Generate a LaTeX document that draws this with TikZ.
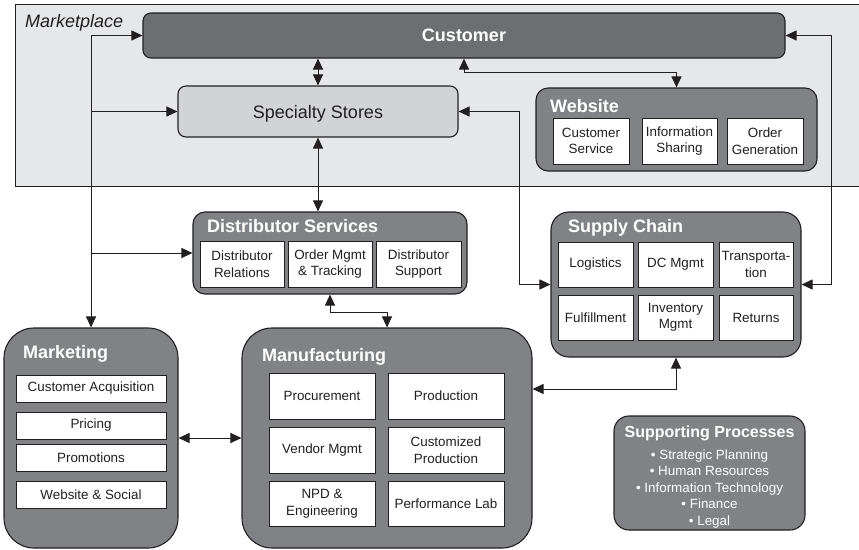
\documentclass[tikz,border=0pt]{standalone}
\usepackage{fontspec}
\setmainfont{Liberation Sans}
\usetikzlibrary{arrows.meta,positioning}

\definecolor{plate}{HTML}{E6E7E8}
\definecolor{darkgray}{HTML}{6D6E71}
\definecolor{boxgray}{HTML}{808285}
\definecolor{storegray}{HTML}{D1D3D4}
\definecolor{ink}{HTML}{231F20}

\tikzset{
    group/.style={draw=ink, fill=boxgray, line width=1.1pt, inner sep=0pt, rounded corners=#1},
    group/.default=12pt,
    cell/.style={draw=ink, fill=white, line width=1pt, inner sep=0pt, align=center,
        text=ink, font=\fontsize{13.4}{16.5}\selectfont, minimum width=#1},
    title/.style={anchor=base west, inner sep=0pt, text=white, font=\fontsize{18}{20}\selectfont\bfseries},
    link/.style={draw=ink, line width=1pt, {Triangle[length=11pt,width=10pt]}-{Triangle[length=11pt,width=10pt]}},
    feed/.style={draw=ink, line width=1pt, -{Triangle[length=11pt,width=10pt]}},
}

\begin{document}
\begin{tikzpicture}[x=1pt,y=-1pt]
    \useasboundingbox (0,0) rectangle (859,549);

    \fill[plate] (15,4) rectangle (859,186);
    \draw[ink, line width=0.9pt] (859,4) -- (15,4) -- (15,186) -- (859,186);
    \node[anchor=base west, inner sep=0pt, text=ink, font=\fontsize{18}{20}\selectfont\itshape] (Marketplace) at (25,27) {Marketplace};

    \node[group=8pt, fill=darkgray, minimum width=642pt, minimum height=45pt, text=white,
        font=\fontsize{18}{20}\selectfont\bfseries] (Customer) at (464,35.5) {Customer};
    \node[group=8pt, fill=storegray, minimum width=280pt, minimum height=51pt, text=ink,
        text height=13pt, text depth=0pt, font=\fontsize{18}{20}\selectfont] (Specialty) at (318,111.5) {Specialty Stores};

    \node[group, minimum width=281pt, minimum height=83pt] (Website) at (676.5,129.5) {};
    \node[title] (WebsiteTitle) at (550,112) {Website};
    \node[cell=76pt, minimum height=46pt] (CustService) at (591,141) {Customer\\Service};
    \node[cell=75pt, minimum height=46pt] (InfoSharing) at (679.5,141) {Information\\Sharing};
    \node[cell=76pt, minimum height=46pt] (OrderGen) at (765,141) {Order\\Generation};

    \node[group, minimum width=274pt, minimum height=82pt] (Distributor) at (330,253) {};
    \node[title] (DistributorTitle) at (207,232) {Distributor Services};
    \node[cell=84pt, minimum height=46pt] (DistRelations) at (242,264) {Distributor\\Relations};
    \node[cell=84pt, minimum height=46pt] (OrderMgmt) at (330,264) {Order Mgmt\\\& Tracking};
    \node[cell=85pt, minimum height=46pt] (DistSupport) at (418.5,264) {Distributor\\Support};

    \node[group=18pt, minimum width=250pt, minimum height=145pt] (Supply) at (676,284.5) {};
    \node[title] (SupplyTitle) at (568,232) {Supply Chain};
    \node[cell=75pt, minimum height=45pt] (Logistics) at (595.5,264.5) {Logistics};
    \node[cell=75pt, minimum height=45pt] (DCMgmt) at (675.5,264.5) {DC Mgmt};
    \node[cell=74pt, minimum height=45pt] (Transport) at (756,264.5) {Transporta-\\tion};
    \node[cell=75pt, minimum height=45pt] (Fulfillment) at (595.5,317.5) {Fulfillment};
    \node[cell=75pt, minimum height=45pt] (InventoryMgmt) at (675.5,317.5) {Inventory\\Mgmt};
    \node[cell=74pt, minimum height=45pt] (Returns) at (756,317.5) {Returns};

    \node[group=30pt, minimum width=174pt, minimum height=220pt] (Marketing) at (91,438) {};
    \node[title] (MarketingTitle) at (23,358) {Marketing};
    \node[cell=150pt, minimum height=27pt] (Acquisition) at (91,388.5) {Customer Acquisition};
    \node[cell=150pt, minimum height=27pt] (Pricing) at (91,425.5) {Pricing};
    \node[cell=150pt, minimum height=27pt] (Promotions) at (91,457.5) {Promotions};
    \node[cell=150pt, minimum height=27pt] (Social) at (91,494.5) {Website \& Social};

    \node[group=30pt, minimum width=290pt, minimum height=220pt] (Manufacturing) at (387,438) {};
    \node[title] (ManufacturingTitle) at (262,361) {Manufacturing};
    \node[cell=106pt, minimum height=46pt] (Procurement) at (322,396) {Procurement};
    \node[cell=116pt, minimum height=46pt] (Production) at (446,396) {Production};
    \node[cell=106pt, minimum height=46pt] (VendorMgmt) at (322,450) {Vendor Mgmt};
    \node[cell=116pt, minimum height=46pt] (Customized) at (446,450) {Customized\\Production};
    \node[cell=106pt, minimum height=45pt] (NPD) at (322,503.5) {NPD \&\\Engineering};
    \node[cell=116pt, minimum height=45pt] (PerfLab) at (446,503.5) {Performance Lab};

    \node[group=15pt, minimum width=191pt, minimum height=114pt] (Support) at (709.5,473) {};
    \node[anchor=base, inner sep=0pt, text=white, font=\fontsize{16}{18}\selectfont\bfseries] (SupportTitle) at (709.5,437) {Supporting Processes};
    \node[anchor=north, inner sep=0pt, align=center, text=white, font=\fontsize{13.4}{16.5}\selectfont] (SupportList) at (709.5,449.5)
        {\textbullet{} Strategic Planning\\\textbullet{} Human Resources\\\textbullet{} Information Technology\\\textbullet{} Finance\\\textbullet{} Legal};

    \coordinate (trunk) at (Marketing.north |- Customer.west);
    \draw[feed] (trunk) -- (Customer.west);
    \draw[feed] (trunk) -- (Marketing.north);
    \draw[feed] (trunk |- Specialty.west) -- (Specialty.west);
    \draw[feed] (trunk |- Distributor.west) -- (Distributor.west);
    \draw[link] (Specialty.north) -- (Specialty.north |- Customer.south);
    \draw[link] (Customer.south) -- ++(0,14) -| (Website.north);
    \draw[link] (Specialty.south) -- (Specialty.south |- Distributor.north);
    \draw[link] (Specialty.east) -- ++(61,0) |- (Supply.west);
    \draw[link] (Customer.east) -- ++(46,0) |- (Supply.east);
    \draw[link] (Distributor.south) -- ++(0,18) -| (Manufacturing.north);
    \draw[link] (Marketing.east) -- (Manufacturing.west);
    \draw[link] (Supply.south) |- ([yshift=49pt]Manufacturing.east);
\end{tikzpicture}
\end{document}
